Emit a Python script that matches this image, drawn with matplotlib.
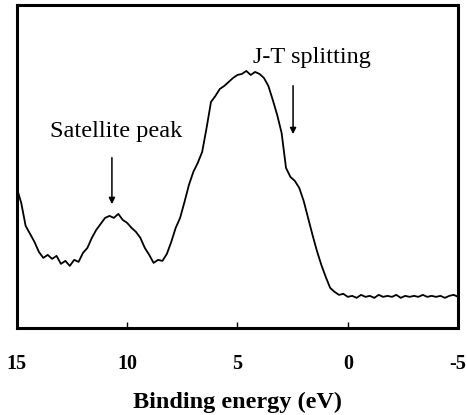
import matplotlib
matplotlib.use("Agg")
import matplotlib.pyplot as plt

plt.rcParams['font.family'] = ['Liberation Serif', 'DejaVu Serif']

# binding energy (eV) and intensity (arb. units)
energy = [15.0, 14.8, 14.6, 14.4, 14.2, 14.0, 13.8, 13.6, 13.4, 13.2,
          13.0, 12.8, 12.6, 12.4, 12.2, 12.0, 11.8, 11.6, 11.4, 11.2,
          11.0, 10.8, 10.6, 10.4, 10.2, 10.0, 9.8, 9.6, 9.4, 9.2,
          9.0, 8.8, 8.6, 8.4, 8.2, 8.0, 7.8, 7.6, 7.4, 7.2,
          7.0, 6.8, 6.6, 6.4, 6.2, 6.0, 5.8, 5.6, 5.4, 5.2,
          5.0, 4.8, 4.6, 4.4, 4.2, 4.0, 3.8, 3.6, 3.4, 3.2,
          3.0, 2.8, 2.6, 2.4, 2.2, 2.0, 1.8, 1.6, 1.4, 1.2,
          1.0, 0.8, 0.6, 0.4, 0.2, 0.0, -0.2, -0.4, -0.6, -0.8,
          -1.0, -1.2, -1.4, -1.6, -1.8, -2.0, -2.2, -2.4, -2.6, -2.8,
          -3.0, -3.2, -3.4, -3.6, -3.8, -4.0, -4.2, -4.4, -4.6, -4.8, -5.0]
intensity = [140, 125, 102, 94, 86, 76, 70, 73, 69, 72,
             64, 67, 62, 68, 66, 75, 80, 90, 98, 104,
             110, 112, 110, 114, 108, 105, 100, 96, 90, 80,
             73, 65, 68, 67, 74, 86, 100, 110, 126, 143,
             156, 165, 176, 200, 226, 232, 239, 242, 246, 250,
             253, 254, 257, 253, 256, 254, 250, 242, 228, 213,
             195, 160, 151, 147, 140, 127, 110, 93, 77, 63,
             51, 40, 36, 33, 34, 31, 32, 30, 33, 31,
             32, 30, 33, 31, 32, 31, 33, 30, 32, 31,
             32, 31, 33, 31, 32, 31, 32, 30, 32, 33, 31]

tick_vals = [15, 10, 5, 0, -5]

fig = plt.figure(figsize=(4.67, 4.15), dpi=100)
ax = fig.add_axes([0.036, 0.210, 0.945, 0.778])

ax.plot(energy, intensity, color='black', lw=1.3)

ax.set_xlim(15, -5)
ax.set_ylim(0, 323)
ax.set_yticks([])
ax.set_xticks(tick_vals)
ax.set_xticklabels([str(v) for v in tick_vals], fontsize=14.5, fontweight='bold')
ax.tick_params(axis='x', direction='in', length=4, width=1, pad=19)
for s in ax.spines.values():
    s.set_linewidth(2.2)

ax.set_xlabel('Binding energy (eV)', fontsize=17.5, fontweight='bold', labelpad=13)

ax.annotate('', xy=(10.69, 121), xytext=(10.69, 173),
            arrowprops=dict(arrowstyle='-|>', color='black', lw=1.1,
                            mutation_scale=9))
ax.text(10.5, 196, 'Satellite peak', fontsize=17.5, ha='center', va='center')

ax.annotate('', xy=(2.48, 191), xytext=(2.48, 245),
            arrowprops=dict(arrowstyle='-|>', color='black', lw=1.1,
                            mutation_scale=9))
ax.text(1.62, 270, 'J-T splitting', fontsize=17.5, ha='center', va='center')

fig.savefig('out.png', dpi=100)
